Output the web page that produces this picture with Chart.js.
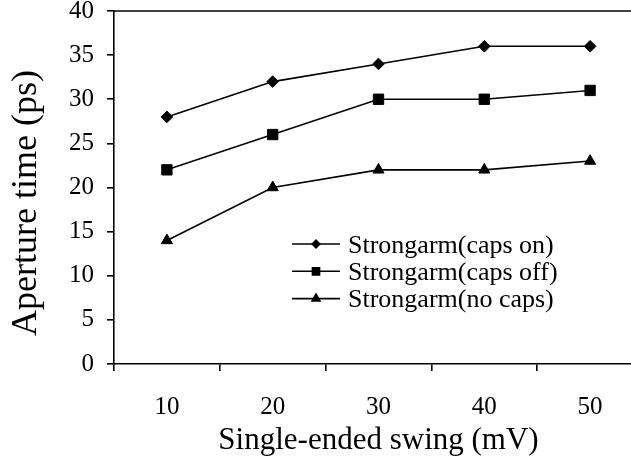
<!DOCTYPE html>
<html>
<head>
<meta charset="utf-8">
<script src="https://cdn.jsdelivr.net/npm/chart.js"></script>
<style>
  html, body { margin: 0; padding: 0; background: #fff; overflow: hidden; }
  #wrap { position: relative; width: 660px; height: 459px; }
</style>
</head>
<body>
<div id="wrap"><canvas id="c"></canvas></div>
<script>
const swings = ['10', '20', '30', '40', '50'];
const capsOn = [28, 32, 34, 36, 36];
const capsOff = [22, 26, 30, 30, 31];
const noCaps = [14, 20, 22, 22, 23];
const seriesNames = ['Strongarm(caps on)', 'Strongarm(caps off)', 'Strongarm(no caps)'];
const yTitle = 'Aperture time (ps)';
const xTitle = 'Single-ended swing (mV)';

const serif = '"Liberation Serif", "Times New Roman", serif';

// frame top line, y title and the legend inside the plot
const extras = {
  id: 'extras',
  afterDraw(chart) {
    const ctx = chart.ctx;
    const area = chart.chartArea;
    ctx.save();
    ctx.strokeStyle = '#000';
    ctx.fillStyle = '#000';
    ctx.lineWidth = 1.6;
    ctx.beginPath();
    ctx.moveTo(area.left, area.top);
    ctx.lineTo(area.right, area.top);
    ctx.stroke();

    // y axis title
    ctx.save();
    ctx.translate(27, 203);
    ctx.rotate(-Math.PI / 2);
    ctx.font = '36px ' + serif;
    ctx.textAlign = 'center';
    ctx.textBaseline = 'middle';
    ctx.fillText(yTitle, 0, 0);
    ctx.restore();

    // legend
    const x0 = 292, y0 = 244, gap = 27.3;
    const legendR = [3.8, 5, 4.6];
    ctx.font = '26px ' + serif;
    ctx.textBaseline = 'middle';
    chart.data.datasets.forEach((ds, i) => {
      const y = y0 + i * gap;
      ctx.lineWidth = 1.6;
      ctx.beginPath();
      ctx.moveTo(x0, y);
      ctx.lineTo(x0 + 48, y);
      ctx.stroke();
      Chart.helpers.drawPoint(ctx, {
        pointStyle: ds.pointStyle, radius: legendR[i], borderWidth: 1
      }, x0 + 24, y);
      ctx.fillText(ds.label, x0 + 56, y + 2);
    });
    ctx.restore();
  }
};

function mk(label, data, style, r) {
  return {
    label: label, data: data,
    borderColor: '#000', backgroundColor: '#000', borderWidth: 1.6,
    pointStyle: style, pointRadius: r, pointBorderWidth: 1,
    pointBackgroundColor: '#000', pointBorderColor: '#000',
    tension: 0, fill: false
  };
}

new Chart(document.getElementById('c'), {
  type: 'line',
  data: {
    labels: swings,
    datasets: [
      mk(seriesNames[0], capsOn, 'rectRot', 5.8),
      mk(seriesNames[1], capsOff, 'rect', 7.3),
      mk(seriesNames[2], noCaps, 'triangle', 6.4)
    ]
  },
  options: {
    responsive: true,
    maintainAspectRatio: false,
    animation: false,
    layout: { padding: { top: 11, right: 17, left: 0, bottom: 0 } },
    plugins: { legend: { display: false }, tooltip: { enabled: false } },
    scales: {
      x: {
        offset: true,
        grid: { offset: true, drawOnChartArea: false, drawTicks: true, tickLength: 7, color: '#000', lineWidth: 1.6 },
        border: { color: '#000', width: 1.6 },
        ticks: { color: '#000', font: { family: serif, size: 25 }, padding: 21, maxRotation: 0 },
        title: { display: true, text: xTitle, color: '#000', font: { family: serif, size: 31 }, padding: { top: 0, bottom: 0 } },
        afterFit(s) { s.height = 95; }
      },
      y: {
        min: 0, max: 40,
        ticks: { stepSize: 5, color: '#000', font: { family: serif, size: 25 }, padding: 13 },
        grid: { drawOnChartArea: false, drawTicks: true, tickLength: 7, color: '#000', lineWidth: 1.6 },
        border: { color: '#000', width: 1.6 },
        afterFit(s) { s.width = 114; s.paddingTop = 0; s.paddingBottom = 0; }
      }
    }
  },
  plugins: [extras]
});
</script>
</body>
</html>
